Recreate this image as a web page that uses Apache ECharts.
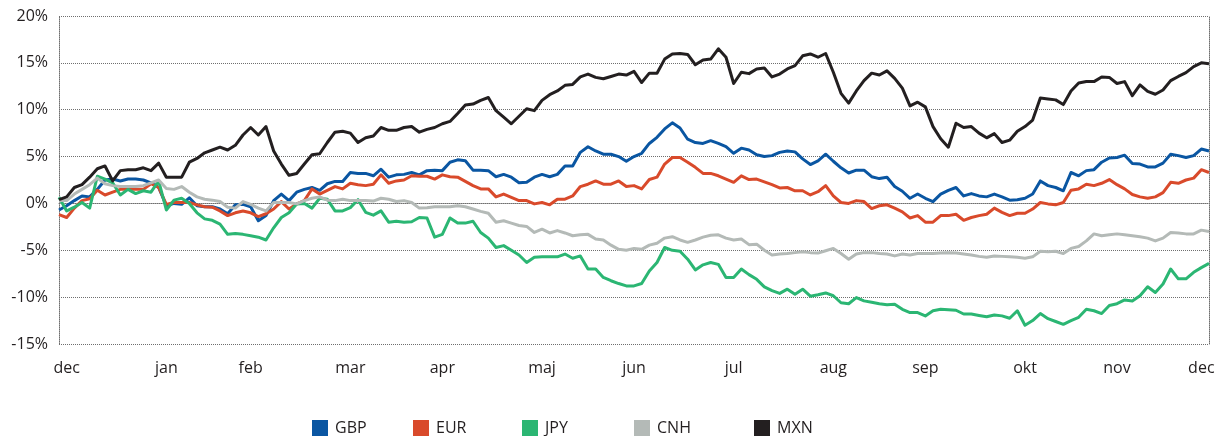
<!DOCTYPE html>
<html>
<head>
<meta charset="utf-8">
<script src="https://cdn.jsdelivr.net/npm/echarts@6/dist/echarts.min.js"></script>
<style>
  html, body { margin: 0; padding: 0; background: #fff; }
  #chart { width: 1218px; height: 436px; }
</style>
</head>
<body>
<div id="chart"></div>
<script>
// month labels and the sample index where each one sits
var monthNames = ['dec', 'jan', 'feb', 'mar', 'apr', 'maj', 'jun', 'jul', 'aug', 'sep', 'okt', 'nov', 'dec'];
var monthIdx = [1, 14, 25, 38, 50, 63, 75, 88, 101, 113, 126, 138, 149];

var seriesNames = ['GBP', 'EUR', 'JPY', 'CNH', 'MXN'];
var seriesColors = ['#0a56a2', '#d94a2b', '#2bb673', '#b4bab7', '#231f20'];

// % change, 151 samples over the year
var gbp = [-0.7, -0.25, 0.3, 0.8, 0.7, 1.5, 2.5, 2.6, 2.4, 2.6, 2.6, 2.5, 2.2, 1.7, -0.25, 0, -0.1, 0.6, -0.25, -0.35,
  -0.35, -0.6, -1.1, -0.15, -0.1, -0.35, -1.85, -1.3, 0.3, 1.0, 0.3, 1.2, 1.5, 1.7, 1.4, 2.1, 2.35, 2.35, 3.3, 3.2,
  3.2, 2.95, 3.65, 2.8, 3.05, 3.1, 3.3, 3.05, 3.5, 3.55, 3.5, 4.4, 4.65, 4.55, 3.55, 3.55, 3.5, 2.85, 3.1, 2.8,
  2.2, 2.25, 2.8, 3.1, 2.85, 3.1, 4.0, 4.0, 5.45, 6.05, 5.6, 5.25, 5.25, 5.0, 4.5, 5.0, 5.35, 6.4, 7.05, 7.95,
  8.6, 8.05, 6.85, 6.5, 6.4, 6.7, 6.4, 6.05, 5.35, 5.9, 5.7, 5.2, 5.0, 5.1, 5.45, 5.6, 5.5, 4.75, 4.15, 4.55,
  5.25, 4.5, 3.8, 3.25, 3.55, 3.55, 2.85, 2.65, 2.8, 1.8, 1.3, 0.55, 1.0, 0.55, 0.2, 1.0, 1.4, 1.7, 0.8, 1.05,
  0.8, 0.7, 1.0, 0.7, 0.35, 0.4, 0.55, 1.0, 2.4, 1.9, 1.7, 1.35, 3.3, 2.95, 3.5, 3.6, 4.4, 4.85, 4.9, 5.15,
  4.25, 4.2, 3.9, 3.9, 4.3, 5.25, 5.1, 4.9, 5.1, 5.8, 5.6];

var eur = [-1.2, -1.5, -0.5, 0.3, 0.5, 1.4, 0.9, 1.2, 1.5, 1.5, 1.5, 1.5, 2.1, 1.7, -0.1, 0.1, 0.1, 0.1, -0.15, -0.35,
  -0.4, -0.8, -1.3, -1.0, -0.8, -1.0, -1.4, -1.1, -0.6, 0.2, -0.6, -0.05, 0.3, 1.55, 1.0, 1.4, 1.8, 1.55, 2.15, 2.0,
  1.9, 2.05, 3.05, 2.15, 2.4, 2.5, 2.95, 2.9, 2.9, 2.6, 3.05, 2.85, 2.8, 2.35, 1.9, 1.55, 1.55, 0.7, 1.0, 0.65,
  0.3, 0.3, -0.05, 0.1, -0.15, 0.45, 0.45, 0.8, 1.8, 2.05, 2.4, 2.05, 2.05, 2.4, 1.8, 1.9, 1.55, 2.55, 2.8, 4.2,
  4.9, 4.9, 4.4, 3.85, 3.2, 3.2, 2.95, 2.6, 2.25, 2.95, 2.55, 2.6, 2.3, 2.0, 1.65, 1.7, 1.35, 1.35, 0.9, 1.25,
  1.9, 0.8, 0.1, 0, 0.3, 0.2, -0.55, -0.25, -0.15, -0.5, -0.9, -1.55, -1.3, -2.0, -2.0, -1.3, -1.3, -1.15, -1.8, -1.5,
  -1.3, -1.15, -0.5, -0.95, -1.3, -1.05, -1.05, -0.6, 0.1, -0.05, -0.15, 0.1, 1.4, 1.55, 2.05, 1.9, 2.15, 2.55, 2.0, 1.55,
  0.95, 0.7, 0.55, 0.7, 1.15, 2.25, 2.15, 2.5, 2.7, 3.6, 3.3];

var jpy = [0.65, -0.8, -0.4, 0.1, -0.5, 2.9, 2.6, 2.2, 0.9, 1.5, 1.05, 1.35, 1.2, 2.4, -0.7, 0.35, 0.55, 0, -1.0, -1.65,
  -1.8, -2.2, -3.3, -3.2, -3.3, -3.45, -3.6, -3.9, -2.6, -1.5, -1.0, -0.05, 0, -0.5, 0.55, 0.45, -0.8, -0.8, -0.45, 0.4,
  -0.95, -1.25, -0.8, -2.0, -1.9, -2.0, -1.95, -1.5, -1.55, -3.6, -3.3, -1.55, -2.1, -2.1, -1.9, -3.1, -3.7, -4.7, -4.5, -5.0,
  -5.5, -6.3, -5.75, -5.7, -5.7, -5.7, -5.4, -5.85, -5.6, -7.0, -7.0, -7.9, -8.25, -8.55, -8.8, -8.8, -8.55, -7.2, -6.3, -4.7,
  -5.0, -5.1, -5.95, -7.1, -6.55, -6.3, -6.5, -7.9, -7.9, -7.0, -7.6, -8.1, -8.9, -9.3, -9.6, -9.15, -9.7, -9.15, -9.9, -9.75,
  -9.55, -9.85, -10.6, -10.7, -10.05, -10.4, -10.55, -10.7, -10.8, -10.75, -11.3, -11.65, -11.65, -12.0, -11.45, -11.3, -11.35, -11.4, -11.8, -11.8,
  -11.95, -12.1, -11.9, -12.0, -12.25, -11.45, -13.0, -12.5, -11.75, -12.3, -12.6, -12.9, -12.5, -12.15, -11.3, -11.45, -11.75, -10.9, -10.7, -10.3,
  -10.4, -9.85, -8.9, -9.5, -8.6, -7.0, -8.05, -8.05, -7.35, -6.85, -6.4];

var cnh = [0.3, 0.3, 1.0, 1.5, 2.0, 2.7, 2.1, 1.9, 1.8, 1.8, 1.8, 1.9, 2.2, 2.5, 1.6, 1.5, 1.8, 1.2, 0.7, 0.45,
  0.35, 0.2, -0.4, -0.5, 0.2, -0.1, -0.5, -0.8, 0.1, 0.1, 0.1, -0.05, 0.3, 0.55, 0.7, 0.35, 0.3, 0.45, 0.3, 0.3,
  0.3, 0.25, 0.55, 0.45, 0.2, 0.3, 0.1, -0.5, -0.45, -0.35, -0.35, -0.35, -0.25, -0.35, -0.6, -0.85, -1.05, -2.0, -1.85, -2.1,
  -2.35, -2.45, -3.1, -2.75, -3.15, -2.9, -3.15, -3.45, -3.35, -3.3, -3.8, -3.9, -4.45, -4.9, -5.0, -4.8, -4.9, -4.45, -4.25, -3.7,
  -3.55, -3.9, -4.15, -3.9, -3.6, -3.4, -3.35, -3.7, -3.9, -3.8, -4.4, -4.35, -5.0, -5.5, -5.4, -5.35, -5.25, -5.15, -5.25, -5.3,
  -5.05, -4.8, -5.35, -5.95, -5.4, -5.25, -5.25, -5.35, -5.4, -5.6, -5.4, -5.5, -5.35, -5.35, -5.35, -5.3, -5.25, -5.3, -5.4, -5.5,
  -5.65, -5.75, -5.6, -5.65, -5.7, -5.75, -5.85, -5.7, -5.1, -5.15, -5.1, -5.35, -4.8, -4.6, -4.0, -3.25, -3.45, -3.35, -3.25, -3.35,
  -3.45, -3.55, -3.7, -4.0, -3.7, -3.1, -3.15, -3.25, -3.25, -2.85, -3.0];

var mxn = [0.4, 0.7, 1.7, 2.0, 2.8, 3.7, 4.0, 2.4, 3.5, 3.6, 3.6, 3.8, 3.5, 4.3, 2.8, 2.8, 2.8, 4.4, 4.8, 5.4,
  5.7, 6.0, 5.7, 6.2, 7.3, 8.1, 7.3, 8.2, 5.6, 4.2, 3.0, 3.2, 4.2, 5.2, 5.3, 6.5, 7.6, 7.7, 7.5, 6.5,
  7.0, 7.2, 8.1, 7.8, 7.8, 8.1, 8.2, 7.6, 7.9, 8.1, 8.5, 8.75, 9.6, 10.5, 10.6, 11.0, 11.3, 9.9, 9.2, 8.5,
  9.3, 10.1, 9.9, 11.0, 11.6, 12.0, 12.6, 12.7, 13.5, 13.8, 13.45, 13.3, 13.55, 13.8, 13.7, 14.1, 12.9, 13.9, 13.9, 15.4,
  15.95, 16.0, 15.9, 14.8, 15.3, 15.4, 16.5, 15.6, 12.8, 14.0, 13.85, 14.35, 14.45, 13.5, 13.8, 14.35, 14.7, 15.75, 15.95, 15.6,
  16.0, 14.0, 11.75, 10.7, 12.0, 13.1, 13.9, 13.7, 14.15, 13.35, 12.3, 10.4, 10.8, 10.3, 8.2, 6.9, 6.0, 8.55, 8.1, 8.2,
  7.5, 7.0, 7.45, 6.5, 6.75, 7.7, 8.2, 8.9, 11.25, 11.15, 11.05, 10.55, 12.0, 12.85, 13.0, 13.0, 13.5, 13.45, 12.8, 13.0,
  11.5, 12.65, 11.95, 11.65, 12.1, 13.1, 13.55, 13.95, 14.6, 15.0, 14.9];

var yTicks = { min: -15, max: 20, step: 5 };

var allValues = [gbp, eur, jpy, cnh, mxn];

// category labels: month name where a month starts, blank elsewhere
var categories = [];
for (var i = 0; i < gbp.length; i++) {
  var k = monthIdx.indexOf(i);
  categories.push(k >= 0 ? monthNames[k] : '');
}

var textColor = '#231f20';
var fontFam = '"Open Sans", "Noto Sans", sans-serif';
var dotted = { color: '#6f6f6f', type: 'dotted', width: 1 };

var series = [];
for (var s = 0; s < seriesNames.length; s++) {
  series.push({
    name: seriesNames[s],
    type: 'line',
    data: allValues[s],
    showSymbol: false,
    symbol: 'none',
    lineStyle: { color: seriesColors[s], width: 3, join: 'round' },
    itemStyle: { color: seriesColors[s] },
    z: 2 + s
  });
}

// one legend per item so each lands where the reference has it
var legendLeft = [312, 413, 522, 634, 754];
var legends = seriesNames.map(function (n, idx) {
  return {
    data: [n],
    left: legendLeft[idx],
    top: 420,
    icon: 'rect',
    itemWidth: 16,
    itemHeight: 16,
    itemGap: 0,
    padding: 0,
    selectedMode: false,
    textStyle: { color: textColor, fontSize: 16, fontFamily: fontFam, padding: [0, 0, 0, 2] }
  };
});

var myChart = echarts.init(document.getElementById('chart'), null, { renderer: 'canvas' });
var option = {
  animation: false,
  backgroundColor: '#fff',
  grid: { left: 59, right: 9, top: 16, bottom: 92 },
  legend: legends,
  xAxis: {
    type: 'category',
    data: categories,
    boundaryGap: false,
    axisLine: { show: true, lineStyle: dotted },
    axisTick: { show: false },
    axisLabel: {
      interval: 0,
      color: textColor,
      fontSize: 16,
      fontFamily: fontFam,
      margin: 16
    },
    splitLine: { show: false }
  },
  yAxis: [{
    type: 'value',
    min: yTicks.min,
    max: yTicks.max,
    interval: yTicks.step,
    axisLine: { show: true, lineStyle: dotted },
    axisTick: { show: false },
    axisLabel: {
      formatter: '{value}%',
      color: textColor,
      fontSize: 16,
      fontFamily: fontFam,
      margin: 11
    },
    splitLine: { show: true, lineStyle: dotted }
  }, {
    type: 'value',
    position: 'right',
    min: yTicks.min,
    max: yTicks.max,
    interval: yTicks.step,
    axisLine: { show: true, lineStyle: dotted },
    axisTick: { show: false },
    axisLabel: { show: false },
    splitLine: { show: false }
  }],
  series: series
};
myChart.setOption(option);
</script>
</body>
</html>
